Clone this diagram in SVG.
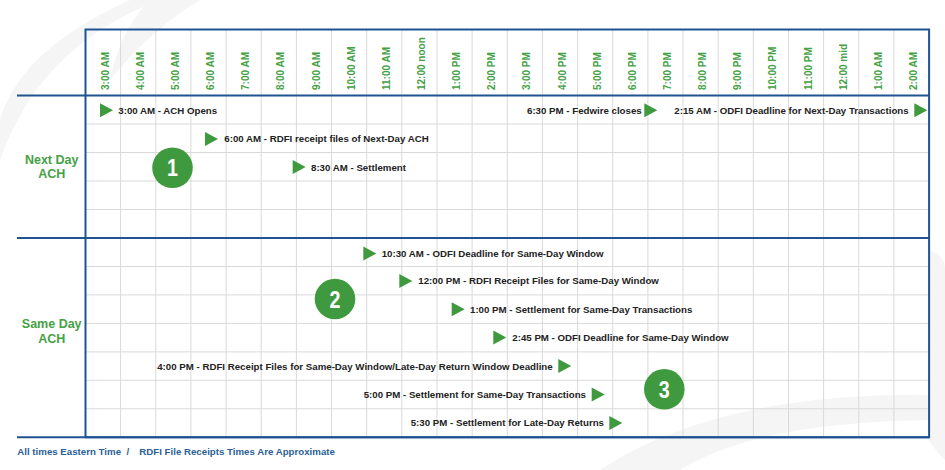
<svg xmlns="http://www.w3.org/2000/svg" width="945" height="470" viewBox="0 0 945 470">
<defs>
<style>
.bg{fill:#f1f1f1}
.grid{stroke:#d9d9d9;stroke-width:1;fill:none}
.frame{stroke:#1f5392;stroke-width:2;fill:none}
.hdr{font-family:"Liberation Sans",Arial,sans-serif;font-weight:bold;font-size:10px;fill:#45a145}
.sec{font-family:"Liberation Sans",Arial,sans-serif;font-weight:bold;font-size:12.5px;fill:#45a145;text-anchor:middle}
.ev{font-family:"Liberation Sans",Arial,sans-serif;font-weight:bold;font-size:9.7px;fill:#222}
.end{text-anchor:end}
.tri{fill:#3f9a3f}
.badge circle{fill:#3f9a3f}
.badge text{font-family:"Liberation Sans",Arial,sans-serif;font-weight:bold;font-size:24px;fill:#fff;text-anchor:middle}
.foot{font-family:"Liberation Sans",Arial,sans-serif;font-weight:bold;font-size:9.7px;fill:#2b5f95}
</style>
<path id="tri" d="M0,-7 L13,0 L0,7 Z"/>
</defs>
<rect width="945" height="470" fill="#fff"/>
<g id="background" opacity="0.7">
<path class="bg" d="M0,120 Q20,50 130,0 L160,0 Q40,45 0,160 Z"/>
<path class="bg" d="M150,0 L200,0 Q150,30 110,80 Q120,30 150,0 Z"/>
<path class="bg" d="M600,470 Q720,390 945,395 L945,420 Q760,420 680,470 Z"/>
<path class="bg" d="M929,250 Q945,255 945,270 L945,460 Q935,450 929,440 Z"/>
</g>
<g id="grid">
<g class="grid">
<path d="M120.6,29.5V437.3M155.8,29.5V437.3M190.9,29.5V437.3M226.1,29.5V437.3M261.2,29.5V437.3M296.4,29.5V437.3M331.5,29.5V437.3M366.7,29.5V437.3M401.8,29.5V437.3M437,29.5V437.3M472.1,29.5V437.3M507.3,29.5V437.3M542.4,29.5V437.3M577.6,29.5V437.3M612.7,29.5V437.3M647.9,29.5V437.3M683,29.5V437.3M718.2,29.5V437.3M753.3,29.5V437.3M788.5,29.5V437.3M823.6,29.5V437.3M858.8,29.5V437.3M893.9,29.5V437.3"/>
<path d="M85.5,124H929M85.5,152.5H929M85.5,181H929M85.5,209.5H929M85.5,266.5H929M85.5,294.9H929M85.5,323.4H929M85.5,351.9H929M85.5,380.3H929M85.5,408.8H929"/>
</g>
<g class="frame">
<rect x="85.5" y="29.5" width="843.6" height="407.8"/>
<path d="M17,95.5H929M17,238H929M17,437.3H929"/>
</g>
</g>
<g id="header">
<text class="hdr" transform="translate(108.6,90) rotate(-90)">3:00 AM</text>
<text class="hdr" transform="translate(143.7,90) rotate(-90)">4:00 AM</text>
<text class="hdr" transform="translate(178.9,90) rotate(-90)">5:00 AM</text>
<text class="hdr" transform="translate(214,90) rotate(-90)">6:00 AM</text>
<text class="hdr" transform="translate(249.2,90) rotate(-90)">7:00 AM</text>
<text class="hdr" transform="translate(284.3,90) rotate(-90)">8:00 AM</text>
<text class="hdr" transform="translate(319.5,90) rotate(-90)">9:00 AM</text>
<text class="hdr" transform="translate(354.6,90) rotate(-90)">10:00 AM</text>
<text class="hdr" transform="translate(389.8,90) rotate(-90)">11:00 AM</text>
<text class="hdr" transform="translate(424.9,90) rotate(-90)">12:00 noon</text>
<text class="hdr" transform="translate(460.1,90) rotate(-90)">1:00 PM</text>
<text class="hdr" transform="translate(495.2,90) rotate(-90)">2:00 PM</text>
<text class="hdr" transform="translate(530.4,90) rotate(-90)">3:00 PM</text>
<text class="hdr" transform="translate(565.5,90) rotate(-90)">4:00 PM</text>
<text class="hdr" transform="translate(600.7,90) rotate(-90)">5:00 PM</text>
<text class="hdr" transform="translate(635.8,90) rotate(-90)">6:00 PM</text>
<text class="hdr" transform="translate(671,90) rotate(-90)">7:00 PM</text>
<text class="hdr" transform="translate(706.1,90) rotate(-90)">8:00 PM</text>
<text class="hdr" transform="translate(741.3,90) rotate(-90)">9:00 PM</text>
<text class="hdr" transform="translate(776.4,90) rotate(-90)">10:00 PM</text>
<text class="hdr" transform="translate(811.6,90) rotate(-90)">11:00 PM</text>
<text class="hdr" transform="translate(846.7,90) rotate(-90)">12:00 mid</text>
<text class="hdr" transform="translate(881.9,90) rotate(-90)">1:00 AM</text>
<text class="hdr" transform="translate(917,90) rotate(-90)">2:00 AM</text>
</g>
<g id="section-next-day">
<text class="sec" x="51.7" y="164">Next Day</text>
<text class="sec" x="51.7" y="178.3">ACH</text>
</g>
<g id="section-same-day">
<text class="sec" x="51.7" y="328.3">Same Day</text>
<text class="sec" x="51.7" y="342.7">ACH</text>
</g>
<g id="ev-ach-opens"><use href="#tri" class="tri" x="100" y="110.3"/><text class="ev" x="118.3" y="113.6">3:00 AM - ACH Opens</text></g>
<g id="ev-rdfi-nextday"><use href="#tri" class="tri" x="205" y="139"/><text class="ev" x="224.3" y="142.4">6:00 AM - RDFI receipt files of Next-Day ACH</text></g>
<g id="ev-settlement-nextday"><use href="#tri" class="tri" x="292.7" y="167"/><text class="ev" x="311" y="170.6">8:30 AM - Settlement</text></g>
<g id="ev-fedwire"><text class="ev end" x="641.7" y="113.6">6:30 PM - Fedwire closes</text><use href="#tri" class="tri" x="644.3" y="110.3"/></g>
<g id="ev-odfi-nextday"><text class="ev" x="674.3" y="113.6">2:15 AM - ODFI Deadline for Next-Day Transactions</text><use href="#tri" class="tri" x="914.3" y="110.3"/></g>
<g id="ev-odfi-1030"><use href="#tri" class="tri" x="363.3" y="253.6"/><text class="ev" x="381.7" y="257">10:30 AM - ODFI Deadline for Same-Day Window</text></g>
<g id="ev-rdfi-1200"><use href="#tri" class="tri" x="399.3" y="280.9"/><text class="ev" x="418.3" y="284.2">12:00 PM - RDFI Receipt Files for Same-Day Window</text></g>
<g id="ev-settle-100"><use href="#tri" class="tri" x="451.7" y="309.2"/><text class="ev" x="470" y="312.6">1:00 PM - Settlement for Same-Day Transactions</text></g>
<g id="ev-odfi-245"><use href="#tri" class="tri" x="493.3" y="337.6"/><text class="ev" x="512.3" y="341">2:45 PM - ODFI Deadline for Same-Day Window</text></g>
<g id="ev-rdfi-400"><text class="ev end" x="552.7" y="369.5">4:00 PM - RDFI Receipt Files for Same-Day Window/Late-Day Return Window Deadline</text><use href="#tri" class="tri" x="558.3" y="366.1"/></g>
<g id="ev-settle-500"><text class="ev end" x="586" y="398">5:00 PM - Settlement for Same-Day Transactions</text><use href="#tri" class="tri" x="591.7" y="394.6"/></g>
<g id="ev-settle-530"><text class="ev end" x="604" y="426.4">5:30 PM - Settlement for Late-Day Returns</text><use href="#tri" class="tri" x="609.3" y="423"/></g>
<g id="badge-1" class="badge"><circle cx="172.5" cy="167.8" r="20.3"/><text transform="translate(172.5,176.4) scale(0.82,1)">1</text></g>
<g id="badge-2" class="badge"><circle cx="335" cy="299" r="20.3"/><text transform="translate(335,307.6) scale(0.82,1)">2</text></g>
<g id="badge-3" class="badge"><circle cx="664.3" cy="389.3" r="20.3"/><text transform="translate(664.3,397.9) scale(0.82,1)">3</text></g>
<g id="footer">
<text class="foot" x="17.3" y="454.5">All times Eastern Time</text>
<text class="foot" x="126.5" y="454.5">/</text>
<text class="foot" x="139.3" y="454.5">RDFI File Receipts Times Are Approximate</text>
</g>
</svg>
